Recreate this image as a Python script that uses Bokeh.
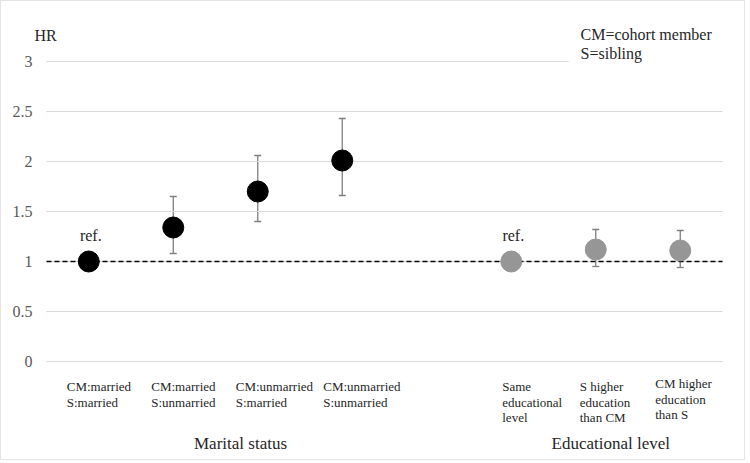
from bokeh.plotting import figure
from bokeh.models import Range1d, FixedTicker, ColumnDataSource, Whisker, TeeHead
from bokeh.core.properties import value
from bokeh.embed import file_html
from bokeh.resources import INLINE

# ---------------- data ----------------
marital_labels = [["CM:married", "S:married"],
                  ["CM:married", "S:unmarried"],
                  ["CM:unmarried", "S:married"],
                  ["CM:unmarried", "S:unmarried"]]
marital_hr = [1.00, 1.34, 1.70, 2.01]
marital_lo = [None, 1.08, 1.40, 1.66]
marital_hi = [None, 1.65, 2.06, 2.43]

edu_labels = [["Same", "educational", "level"],
              ["S higher", "education", "than CM"],
              ["CM higher", "education", "than S"]]
edu_hr = [1.00, 1.12, 1.11]
edu_lo = [None, 0.95, 0.94]
edu_hi = [None, 1.32, 1.31]

group_titles = ["Marital status", "Educational level"]
y_ticks = [0, 0.5, 1, 1.5, 2, 2.5, 3]
y_tick_labels = ["0", "0.5", "1", "1.5", "2", "2.5", "3"]
ref_value = 1
ref_text = "ref."
y_title = "HR"
legend_lines = ["CM=cohort member", "S=sibling"]

# ---------------- layout / style ----------------
FONT = value("Liberation Serif")
TXT = "#262626"
W, H = 745, 460           # + 1px css border on each side -> 747 x 462


def ypx(py):
    """vertical layout helper: page pixel row -> data value (100 px per unit, 0 at row 361)"""
    return (361 - py) / 100.0


n_slots = len(marital_hr) + 1 + len(edu_hr)
mx = list(range(len(marital_hr)))
ex = [len(marital_hr) + 1 + i for i in range(len(edu_hr))]

p = figure(width=W, height=H, output_backend="svg", toolbar_location=None,
           x_range=Range1d(-0.654, 7.784), y_range=Range1d(ypx(461), ypx(1)),
           min_border_left=32, min_border_right=0, min_border_top=0,
           min_border_bottom=0,
           styles={"border": "1px solid #e4e4e4"})
p.outline_line_color = None
p.background_fill_color = "white"
p.border_fill_color = "white"
p.xaxis.visible = False
p.xgrid.grid_line_color = None
p.ygrid.grid_line_color = None
yax = p.yaxis[0]
yax.ticker = FixedTicker(ticks=y_ticks)
yax.major_label_overrides = {t: l for t, l in zip(y_ticks, y_tick_labels)}
yax.axis_line_color = None
yax.major_tick_line_color = None
yax.minor_tick_line_color = None
yax.major_tick_in = 0
yax.major_tick_out = 0
yax.major_label_standoff = 1
yax.major_label_text_font = "Liberation Serif"
yax.major_label_text_font_size = "16px"
yax.major_label_text_color = "#595959"

x0, x1 = -0.5, n_slots - 0.5

# horizontal gridlines at the tick values
p.segment(x0=[x0] * len(y_ticks), x1=[x1] * len(y_ticks), y0=y_ticks, y1=y_ticks,
          line_color="#d9d9d9", line_width=1)
# white text box of the legend (hides the right part of the top gridline)
p.quad(left=5.68, right=x1 + 0.1, bottom=ypx(72), top=ypx(12),
       fill_color="white", line_color=None)

# reference line
p.segment(x0=[x0], x1=[x1], y0=[ref_value], y1=[ref_value],
          line_color="black", line_width=1.5, line_dash="5 3")


# error bars
def ci_source(xs, lo, hi):
    d = dict(x=[], lower=[], upper=[])
    for x, l, h in zip(xs, lo, hi):
        if l is not None:
            d["x"].append(x); d["lower"].append(l); d["upper"].append(h)
    return ColumnDataSource(d)


for xs, lo, hi in [(mx, marital_lo, marital_hi), (ex, edu_lo, edu_hi)]:
    p.add_layout(Whisker(base="x", lower="lower", upper="upper",
                         source=ci_source(xs, lo, hi),
                         line_color="#7f7f7f", line_width=1.3,
                         upper_head=TeeHead(size=7, line_color="#7f7f7f", line_width=1.3),
                         lower_head=TeeHead(size=7, line_color="#7f7f7f", line_width=1.3)))

# points
p.scatter(mx, marital_hr, size=21, fill_color="black", line_color="black")
p.scatter(ex, edu_hr, size=21, fill_color="#969696", line_color="#969696")

# ref. labels
p.text(x=[mx[0], ex[0]], y=[ref_value, ref_value], text=[ref_text, ref_text],
       x_offset=2, y_offset=-26, text_font=FONT, text_font_size="16px",
       text_color=TXT, text_align="center", text_baseline="alphabetic")

# category labels below the axis
label_dx = {"m": [-22, -22, -22, -19], "e": [-9, -16, -25]}
label_base = {"m": [386, 386, 386, 386], "e": [386, 386, 383]}
tx, ty, tt, toff = [], [], [], []
for key, xs, labs in [("m", mx, marital_labels), ("e", ex, edu_labels)]:
    for x, lines, dx, b in zip(xs, labs, label_dx[key], label_base[key]):
        for j, line in enumerate(lines):
            tx.append(x); ty.append(ypx(b + j * 15.5)); tt.append(line); toff.append(dx)
p.text(x=tx, y=ty, text=tt, x_offset=toff, text_font=FONT, text_font_size="13px",
       text_color=TXT, text_align="left", text_baseline="alphabetic")

# group titles
title_x = [(mx[0] + mx[-1]) / 2, (ex[0] + ex[-1]) / 2]
p.text(x=title_x, y=[ypx(443)] * 2, text=group_titles, x_offset=[25, 15],
       text_font=FONT, text_font_size="17px", text_color=TXT,
       text_align="center", text_baseline="alphabetic")

# HR label
p.text(x=[x0], y=[ypx(35)], text=[y_title], x_offset=-12, text_font=FONT,
       text_font_size="16px", text_color=TXT, text_align="left",
       text_baseline="alphabetic")

# legend text
p.text(x=[5.82, 5.82], y=[ypx(34), ypx(53)], text=legend_lines, text_font=FONT,
       text_font_size="16px", text_color=TXT, text_align="left",
       text_baseline="alphabetic")

open("out.html", "w").write(file_html(p, INLINE))
